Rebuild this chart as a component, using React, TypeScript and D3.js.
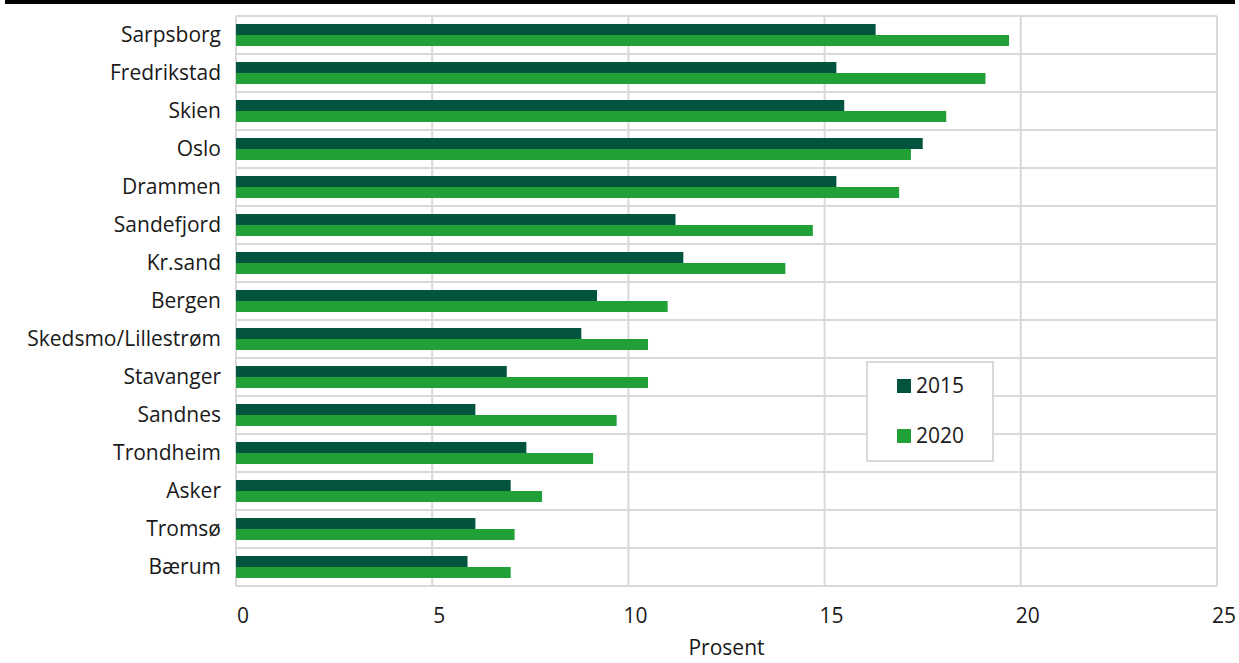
import { useRef, useEffect } from 'react';
import * as d3 from 'd3';

// Data (percent)
const cities = [
  'Sarpsborg', 'Fredrikstad', 'Skien', 'Oslo', 'Drammen', 'Sandefjord', 'Kr.sand',
  'Bergen', 'Skedsmo/Lillestrøm', 'Stavanger', 'Sandnes', 'Trondheim', 'Asker', 'Tromsø', 'Bærum',
];
const values2015 = [16.3, 15.3, 15.5, 17.5, 15.3, 11.2, 11.4, 9.2, 8.8, 6.9, 6.1, 7.4, 7.0, 6.1, 5.9];
const values2020 = [19.7, 19.1, 18.1, 17.2, 16.9, 14.7, 14.0, 11.0, 10.5, 10.5, 9.7, 9.1, 7.8, 7.1, 7.0];
const seriesNames = ['2015', '2020'];
const xTicks = [0, 5, 10, 15, 20, 25];

const W = 1239;
const H = 663;
const colors = ['#02543F', '#21A038'];
const gridColor = '#d9d9d9';
const font = '"Open Sans", "Noto Sans", sans-serif';
const fontSize = '21px';

export default function App() {
  const svgRef = useRef<SVGSVGElement>(null);

  useEffect(() => {
    if (!svgRef.current) return;
    const svg = d3.select(svgRef.current);
    svg.selectAll('*').remove();

    const margin = { top: 16, right: 22, bottom: 77, left: 236 };
    const x = d3.scaleLinear().domain([0, 25]).range([margin.left, W - margin.right]);
    const y = d3.scaleBand<string>().domain(cities).range([margin.top, H - margin.bottom]);
    const inner = d3.scaleBand<string>().domain(seriesNames).range([0, y.bandwidth()]).paddingOuter(0.73).paddingInner(0);

    // top rule
    svg.append('line')
      .attr('x1', 5).attr('x2', W - 4).attr('y1', 2).attr('y2', 2)
      .attr('stroke', '#000').attr('stroke-width', 4);

    const g = svg.append('g');

    // horizontal grid (category boundaries)
    const bounds = cities.map((c) => y(c) || 0).concat([y.range()[1]]);
    g.selectAll('line.hgrid')
      .data(bounds)
      .join('line')
      .attr('class', 'hgrid')
      .attr('x1', x(0)).attr('x2', x(25))
      .attr('y1', (d) => d).attr('y2', (d) => d)
      .attr('stroke', gridColor).attr('stroke-width', 2);

    // vertical grid
    g.selectAll('line.vgrid')
      .data(xTicks)
      .join('line')
      .attr('class', 'vgrid')
      .attr('x1', (d) => x(d)).attr('x2', (d) => x(d))
      .attr('y1', y.range()[0]).attr('y2', y.range()[1])
      .attr('stroke', gridColor).attr('stroke-width', 2);

    // bars
    const rows = cities.map((c, i) => ({ city: c, vals: [values2015[i], values2020[i]] }));
    const rowG = g.selectAll('g.row')
      .data(rows)
      .join('g')
      .attr('class', 'row')
      .attr('transform', (d) => `translate(0,${y(d.city)})`);

    rowG.selectAll('rect')
      .data((d) => d.vals.map((v, j) => ({ v, s: seriesNames[j], j })))
      .join('rect')
      .attr('x', x(0))
      .attr('y', (d) => inner(d.s) || 0)
      .attr('width', (d) => x(d.v) - x(0))
      .attr('height', inner.bandwidth())
      .attr('fill', (d) => colors[d.j]);

    // category labels
    g.selectAll('text.cat')
      .data(cities)
      .join('text')
      .attr('class', 'cat')
      .attr('x', margin.left - 15)
      .attr('y', (d) => (y(d) || 0) + y.bandwidth() / 2)
      .attr('dy', '0.35em')
      .attr('text-anchor', 'end')
      .style('font-family', font)
      .style('font-size', fontSize)
      .style('fill', '#1a1a1a')
      .text((d) => d);

    // x tick labels
    g.selectAll('text.tick')
      .data(xTicks)
      .join('text')
      .attr('class', 'tick')
      .attr('x', (d) => x(d) + 7)
      .attr('y', 616)
      .attr('dy', '0.35em')
      .attr('text-anchor', 'middle')
      .style('font-family', font)
      .style('font-size', fontSize)
      .style('fill', '#1a1a1a')
      .text((d) => String(d));

    svg.append('text')
      .attr('x', (x(0) + x(25)) / 2)
      .attr('y', 648)
      .attr('dy', '0.35em')
      .attr('text-anchor', 'middle')
      .style('font-family', font)
      .style('font-size', fontSize)
      .style('fill', '#1a1a1a')
      .text('Prosent');

    // legend
    const lg = svg.append('g').attr('transform', 'translate(867,362)');
    lg.append('rect')
      .attr('width', 126).attr('height', 99)
      .attr('fill', '#fff').attr('stroke', gridColor).attr('stroke-width', 2);
    seriesNames.forEach((s, i) => {
      const row = lg.append('g').attr('transform', `translate(30,${24 + i * 50})`);
      row.append('rect')
        .attr('x', 0).attr('y', -7).attr('width', 14).attr('height', 14)
        .attr('fill', colors[i]);
      row.append('text')
        .attr('x', 19).attr('y', 0).attr('dy', '0.35em')
        .style('font-family', font)
        .style('font-size', fontSize)
        .style('fill', '#1a1a1a')
        .text(s);
    });
  }, []);

  return (
    <div style={{ position: 'absolute', left: 0, top: 0 }}>
      <svg ref={svgRef} width={W} height={H} style={{ display: 'block', background: '#fff' }} />
    </div>
  );
}
